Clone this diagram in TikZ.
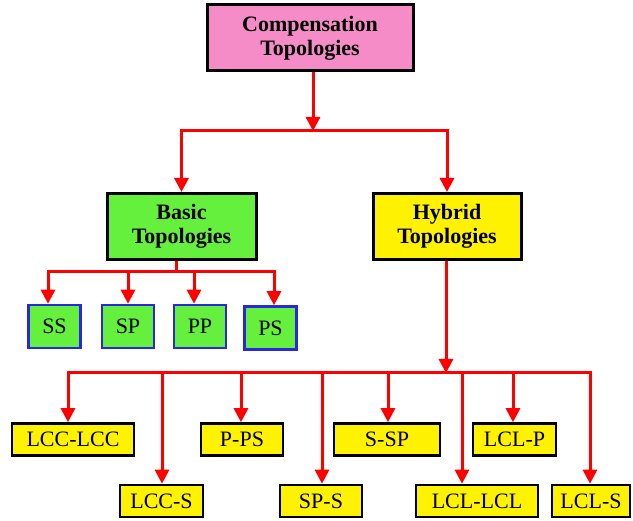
\documentclass[tikz,border=0pt]{standalone}
\usepackage{fontspec}
\setmainfont{Liberation Serif}
\usetikzlibrary{arrows.meta}
\definecolor{toppink}{RGB}{245,140,200}
\definecolor{basicgreen}{RGB}{100,240,60}
\definecolor{leafblue}{RGB}{40,40,225}
\tikzset{
  headbox/.style={draw=black, line width=3pt, align=center, minimum height=66pt,
    font=\fontsize{22}{24}\selectfont\bfseries},
  leafbox/.style={draw=leafblue, line width=2.6pt, fill=basicgreen, minimum width=52pt, minimum height=43pt},
  hybbox/.style={draw=black, line width=2.6pt, fill=yellow, minimum height=32pt},
  link/.style={draw=red, line width=3pt, -{Triangle[length=14pt,width=14pt]}},
  bus/.style={draw=red, line width=3pt},
}
\begin{document}
\begin{tikzpicture}[x=1pt, y=-1pt, font=\fontsize{22}{24}\selectfont]
  \useasboundingbox (0,0) rectangle (633,521);
  % heads
  \node[headbox, fill=toppink, minimum width=206pt] (comp) at (310,38) {Compensation\\Topologies};
  \node[headbox, fill=basicgreen, minimum width=149pt] (basic) at (181.5,226.5) {Basic\\Topologies};
  \node[headbox, fill=yellow, minimum width=148pt] (hybrid) at (447,226.5) {Hybrid\\Topologies};
  % basic leaves
  \node[leafbox] (ss) at (54.5,326.5) {SS};
  \node[leafbox] (sp) at (128,326.5) {SP};
  \node[leafbox] (pp) at (200,326.5) {PP};
  \node[leafbox] (ps) at (270.5,328) {PS};
  % hybrid leaves, upper row
  \node[hybbox, minimum width=122pt] (lcclcc) at (73,439.5) {LCC-LCC};
  \node[hybbox, minimum width=82pt] (pps) at (242,439.5) {P-PS};
  \node[hybbox, minimum width=106pt] (ssp) at (387,439.5) {S-SP};
  \node[hybbox, minimum width=83pt] (lclp) at (514.5,439.5) {LCL-P};
  % hybrid leaves, lower row
  \node[hybbox, minimum width=83pt] (lccs) at (161.5,501) {LCC-S};
  \node[hybbox, minimum width=82pt] (sps) at (321,501) {SP-S};
  \node[hybbox, minimum width=122pt] (lcllcl) at (477,501) {LCL-LCL};
  \node[hybbox, minimum width=78pt] (lcls) at (591,501) {LCL-S};
  % buses
  \coordinate (cb) at (313,131);
  \coordinate (bb) at (176,272);
  \coordinate (hb) at (446,373);
  \draw[link] (comp.south -| cb) -- (cb);
  \draw[link] (cb) -| (basic.north);
  \draw[link] (cb) -| (hybrid.north);
  \draw[bus] (basic.south -| bb) -- (bb);
  \foreach \n/\s in {ss/-6.5, sp/0, pp/-6, ps/3.5}
    \draw[link] (bb) -| ([xshift=\s pt]\n.north);
  \draw[link] (hybrid.south -| hb) -- (hb);
  \foreach \n/\s in {lcclcc/-5, lccs/0.5, pps/-1, sps/1, ssp/1, lcllcl/-15, lclp/-1.5, lcls/-1}
    \draw[link] (hb) -| ([xshift=\s pt]\n.north);
\end{tikzpicture}
\end{document}
